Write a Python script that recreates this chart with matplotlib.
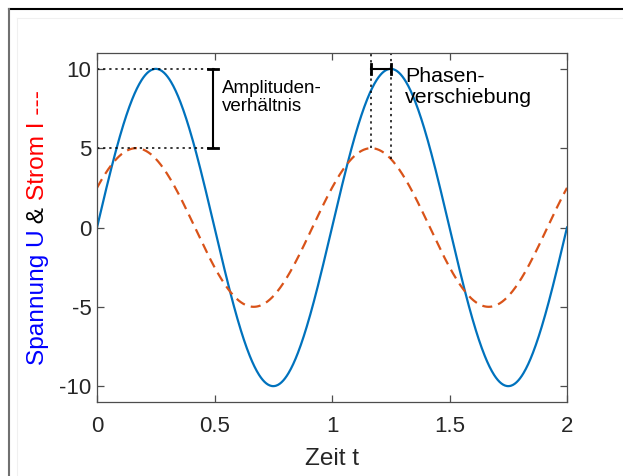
import numpy as np
import matplotlib
matplotlib.use("Agg")
import matplotlib.pyplot as plt
from matplotlib.lines import Line2D

plt.rcParams['font.family'] = ['Liberation Sans', 'DejaVu Sans']

# --- data ---
t_range = [0.0, 2.0]
frequency = 1.0          # Hz (period 1)
amp_U = 10.0             # voltage amplitude
amp_I = 5.0              # current amplitude
phase_I_deg = 30.0       # current leads by 30 degrees (peak at t=1.1667 vs 1.25)
x_ticks = [0, 0.5, 1, 1.5, 2]
x_ticklabels = ['0', '0.5', '1', '1.5', '2']
y_ticks = [-10, -5, 0, 5, 10]
y_ticklabels = ['-10', '-5', '0', '5', '10']
amp_marker_t = 0.495
phase_t = [1.1667, 1.25]

t = np.linspace(t_range[0], t_range[1], 801)
U = amp_U * np.sin(2 * np.pi * frequency * t)
I = amp_I * np.sin(2 * np.pi * frequency * t + np.deg2rad(phase_I_deg))

W, H = 623, 476
fig = plt.figure(figsize=(W / 100, H / 100), dpi=100)
ax = fig.add_axes([97 / W, 1 - 402 / H, (567 - 97) / W, (402 - 53) / H])

c_blue = '#0072BD'
c_red = '#D95319'
ax.plot(t, U, color=c_blue, lw=1.6)
ax.plot(t, I, color=c_red, lw=1.6, dashes=(4.5, 2.8))

ax.set_xlim(0, 2)
ax.set_ylim(-11, 11)
ax.set_xticks(x_ticks)
ax.set_xticklabels(x_ticklabels)
ax.set_yticks(y_ticks)
ax.set_yticklabels(y_ticklabels)
axc = '#4d4d4d'
txtc = '#262626'
for s in ax.spines.values():
    s.set_color(axc)
    s.set_linewidth(0.9)
ax.tick_params(direction='in', length=5, width=0.9, color=axc, labelcolor=txtc,
               labelsize=16, top=True, right=True)
ax.tick_params(axis='x', pad=10)
ax.tick_params(axis='y', pad=4)
ax.set_xlabel('Zeit t', fontsize=17.6, color=txtc, labelpad=8)

# amplitude annotation
ax.plot([0, 0.5], [amp_U, amp_U], color='k', lw=1.1, ls=(0, (1.5, 2.5)))
ax.plot([0, 0.5], [amp_I, amp_I], color='k', lw=1.1, ls=(0, (1.5, 2.5)))
ax.plot([amp_marker_t, amp_marker_t], [amp_I, amp_U], color='k', lw=1.5)
for yv in (amp_I, amp_U):
    ax.plot([amp_marker_t - 0.022, amp_marker_t + 0.022], [yv, yv], color='k', lw=2)
ax.text(0.533, 8.2, 'Amplituden-\nverhältnis', fontsize=13.5, color='k',
        va='center', ha='left', linespacing=1.1)

# phase annotation
I_at = [amp_I * np.sin(2 * np.pi * frequency * p + np.deg2rad(phase_I_deg)) for p in phase_t]
for p, iv in zip(phase_t, I_at):
    ax.plot([p, p], [iv, 11], color='k', lw=1.1, ls=(0, (1.5, 2.5)))
ax.plot(phase_t, [amp_U, amp_U], color='k', lw=1.5)
for p in phase_t:
    ax.plot([p, p], [amp_U - 0.32, amp_U + 0.32], color='k', lw=2)
ax.text(1.31, 8.85, 'Phasen-\nverschiebung', fontsize=15.4, color='k',
        va='center', ha='left', linespacing=1.15)

# multicolored y label, centered on the axes
fig.canvas.draw()
renderer = fig.canvas.get_renderer()
parts = [('Spannung U', (0, 0, 1)), (' & ', 'k'), ('Strom I ---', (1, 0, 0))]
x0 = 38 / W
texts = []
for txt, col in parts:
    tt = fig.text(x0, 0, txt, rotation=90, color=col, fontsize=17.6,
                  ha='center', va='bottom')
    texts.append(tt)
heights = [tt.get_window_extent(renderer).height / H for tt in texts]
ax_center = 1 - ((402 + 53) / 2) / H
y_cur = ax_center - sum(heights) / 2
for tt, h in zip(texts, heights):
    tt.set_y(y_cur)
    y_cur += h

# figure frame lines
fig.add_artist(Line2D([9 / W, 1], [1 - 9 / H, 1 - 9 / H], color='k', lw=1.5))
fig.add_artist(Line2D([9 / W, 9 / W], [0, 1 - 9 / H], color='#707070', lw=1.5))
fig.add_artist(Line2D([17 / W, 1], [1 - 18 / H, 1 - 18 / H], color='#f0f0f0', lw=0.8))
fig.add_artist(Line2D([17 / W, 17 / W], [0, 1 - 18 / H], color='#f0f0f0', lw=0.8))

fig.savefig('out.png', dpi=100)
